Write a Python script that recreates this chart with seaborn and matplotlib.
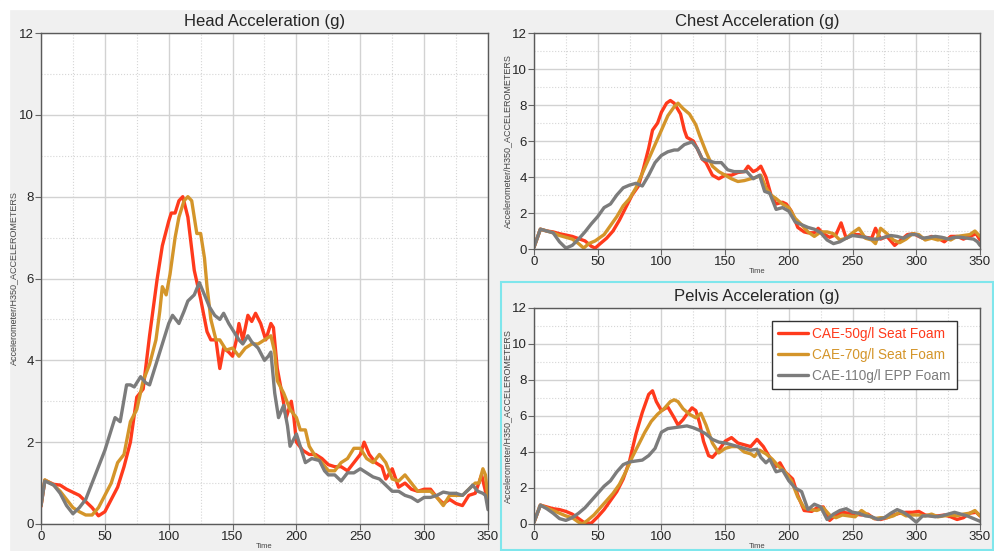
import matplotlib
matplotlib.use("Agg")
import matplotlib.pyplot as plt
import seaborn as sns
from matplotlib.patches import Rectangle
from matplotlib.ticker import MultipleLocator

# ---- data (time in ms, acceleration in g) ----
labels = ["CAE-50g/l Seat Foam", "CAE-70g/l Seat Foam", "CAE-110g/l EPP Foam"]
colors = ["#ff3a1c", "#d4952a", "#7c7c7c"]

# Head
head_t_50 = [0, 3, 10, 15, 20, 30, 40, 45, 50, 55, 60, 65, 70, 75, 80, 85, 88, 91, 95, 100, 102, 105, 108, 111,
             115, 120, 125, 130, 133, 137, 140, 143, 147, 150, 153, 155, 158, 162, 165, 168, 172, 176, 180, 182,
             185, 188, 192, 196, 198, 200, 205, 210, 215, 220, 225, 230, 235, 240, 245, 250, 253, 257, 262, 267,
             270, 275, 280, 285, 290, 295, 300, 305, 310, 315, 320, 325, 330, 335, 340, 345, 348, 350]
head_g_50 = [0.43, 1.07, 0.97, 0.95, 0.85, 0.7, 0.4, 0.2, 0.3, 0.6, 0.9, 1.4, 2.0, 3.1, 3.3, 4.6, 5.3, 6.0, 6.8, 7.4,
             7.6, 7.6, 7.9, 8.0, 7.5, 6.2, 5.5, 4.7, 4.5, 4.5, 3.8, 4.3, 4.2, 4.1, 4.5, 4.9, 4.5, 5.1, 4.95, 5.15,
             4.9, 4.5, 4.9, 4.8, 3.8, 3.3, 2.6, 3.0, 2.6, 2.0, 1.8, 1.7, 1.7, 1.6, 1.45, 1.4, 1.4, 1.3, 1.5, 1.7,
             2.0, 1.7, 1.5, 1.4, 1.1, 1.35, 0.9, 1.0, 0.85, 0.8, 0.85, 0.85, 0.65, 0.5, 0.6, 0.5, 0.45, 0.7,
             0.75, 1.2, 0.8, 0.5]
head_t_70 = [0, 3, 10, 15, 20, 25, 30, 35, 40, 45, 50, 55, 60, 65, 70, 75, 80, 85, 90, 93, 95, 98, 101, 105, 108,
             112, 115, 118, 122, 125, 128, 130, 133, 137, 140, 145, 150, 155, 160, 165, 170, 175, 180, 183, 185,
             190, 195, 200, 203, 207, 210, 215, 220, 225, 230, 235, 240, 245, 250, 255, 260, 265, 270, 275, 280,
             285, 290, 295, 300, 305, 310, 315, 320, 325, 330, 335, 340, 343, 346, 348, 350]
head_g_70 = [0.45, 1.08, 0.95, 0.8, 0.6, 0.4, 0.3, 0.22, 0.22, 0.4, 0.7, 1.0, 1.5, 1.7, 2.5, 2.8, 3.5, 3.9, 4.5,
             5.2, 5.8, 5.6, 6.1, 7.0, 7.5, 7.9, 8.0, 7.9, 7.1, 7.1, 6.5, 5.8, 5.0, 4.5, 4.5, 4.25, 4.3, 4.1, 4.3,
             4.4, 4.4, 4.5, 4.6, 4.2, 3.5, 3.2, 2.8, 2.6, 2.3, 2.3, 1.9, 1.65, 1.5, 1.3, 1.3, 1.5, 1.6, 1.85,
             1.85, 1.6, 1.5, 1.7, 1.5, 1.1, 1.05, 1.2, 1.0, 0.8, 0.8, 0.8, 0.65, 0.45, 0.7, 0.7, 0.7, 0.85, 1.0,
             1.0, 1.35, 1.2, 0.6]
head_t_110 = [0, 3, 10, 15, 20, 25, 30, 35, 40, 45, 50, 55, 58, 62, 67, 70, 73, 78, 82, 85, 90, 95, 100, 103, 108,
              112, 115, 120, 124, 128, 132, 136, 140, 143, 147, 150, 155, 158, 162, 165, 170, 175, 178, 180, 183,
              186, 190, 193, 195, 200, 203, 207, 212, 218, 222, 225, 230, 235, 240, 245, 250, 255, 260, 265, 270,
              275, 280, 285, 290, 295, 300, 305, 310, 315, 320, 325, 330, 335, 338, 342, 346, 348, 350]
head_g_110 = [0.45, 1.05, 0.95, 0.75, 0.45, 0.25, 0.4, 0.6, 1.0, 1.4, 1.8, 2.3, 2.6, 2.5, 3.4, 3.4, 3.35, 3.6,
              3.45, 3.4, 3.9, 4.4, 4.9, 5.1, 4.9, 5.2, 5.45, 5.6, 5.9, 5.6, 5.3, 5.1, 5.0, 5.15, 4.9, 4.75, 4.5,
              4.4, 4.6, 4.45, 4.3, 4.0, 4.1, 4.2, 3.2, 2.6, 2.9, 2.4, 1.9, 2.2, 1.9, 1.5, 1.6, 1.55, 1.3, 1.2,
              1.2, 1.05, 1.25, 1.25, 1.35, 1.25, 1.15, 1.1, 0.95, 0.8, 0.8, 0.7, 0.65, 0.55, 0.65, 0.65, 0.7,
              0.78, 0.75, 0.75, 0.7, 0.85, 0.95, 0.8, 0.75, 0.7, 0.35]

# Chest
chest_t_50 = [0, 5, 10, 15, 20, 30, 40, 45, 48, 52, 57, 62, 67, 72, 77, 82, 86, 90, 93, 97, 100, 104, 107, 110,
              115, 118, 120, 125, 128, 132, 135, 140, 145, 150, 155, 160, 165, 168, 172, 175, 178, 182, 186, 190,
              195, 198, 202, 207, 212, 215, 220, 223, 227, 232, 237, 241, 245, 250, 255, 260, 265, 268, 272, 277,
              283, 288, 293, 298, 302, 307, 312, 317, 322, 327, 332, 337, 342, 347, 350]
chest_g_50 = [0.1, 1.1, 1.0, 0.95, 0.85, 0.7, 0.45, 0.15, 0.05, 0.3, 0.6, 1.0, 1.6, 2.3, 3.0, 3.5, 4.5, 5.6, 6.6,
              7.0, 7.6, 8.1, 8.25, 8.1, 7.5, 6.6, 6.2, 6.0, 5.6, 5.0, 4.8, 4.1, 3.9, 4.1, 4.1, 4.25, 4.3, 4.6,
              4.3, 4.4, 4.6, 4.0, 3.0, 2.5, 2.6, 2.5, 2.1, 1.2, 0.95, 0.9, 0.9, 1.15, 0.85, 0.65, 0.8, 1.45, 0.6,
              0.8, 0.8, 0.65, 0.6, 1.15, 0.55, 0.7, 0.2, 0.5, 0.8, 0.85, 0.7, 0.55, 0.7, 0.6, 0.4, 0.7, 0.7,
              0.55, 0.7, 0.85, 0.5]
chest_t_70 = [0, 5, 10, 15, 20, 25, 30, 35, 39, 43, 48, 55, 60, 65, 70, 75, 80, 85, 90, 95, 100, 105, 110, 113,
              117, 122, 127, 130, 135, 140, 145, 150, 155, 160, 165, 170, 175, 178, 182, 186, 190, 195, 200, 205,
              210, 215, 220, 225, 230, 235, 240, 245, 250, 255, 260, 265, 268, 272, 277, 282, 287, 292, 297, 302,
              307, 312, 317, 322, 327, 332, 337, 342, 346, 350]
chest_g_70 = [0.1, 1.1, 1.0, 0.9, 0.75, 0.65, 0.55, 0.3, 0.05, 0.3, 0.45, 0.8, 1.3, 1.8, 2.4, 2.8, 3.4, 4.2, 5.0,
              5.8, 6.6, 7.4, 7.9, 8.1, 7.8, 7.5, 6.9, 6.3, 5.4, 4.6, 4.3, 4.1, 3.9, 3.75, 3.8, 3.9, 4.0, 4.1, 3.4,
              3.0, 2.8, 2.5, 2.3, 1.7, 1.35, 0.95, 0.7, 0.95, 0.95, 0.85, 0.5, 0.6, 0.9, 1.15, 0.6, 0.5, 0.3,
              1.15, 0.85, 0.5, 0.35, 0.55, 0.85, 0.8, 0.5, 0.6, 0.5, 0.6, 0.5, 0.7, 0.75, 0.8, 1.0, 0.7]
chest_t_110 = [0, 5, 10, 15, 20, 25, 30, 35, 40, 45, 50, 55, 60, 65, 70, 75, 80, 85, 90, 95, 100, 105, 110, 113,
               118, 124, 128, 132, 137, 142, 147, 152, 157, 162, 167, 172, 177, 181, 185, 190, 195, 200, 205, 210,
               215, 220, 225, 230, 235, 240, 245, 250, 255, 260, 265, 270, 275, 280, 285, 290, 295, 300, 305, 310,
               315, 320, 325, 330, 335, 340, 345, 348, 350]
chest_g_110 = [0.1, 1.1, 1.0, 0.9, 0.4, 0.05, 0.2, 0.55, 0.95, 1.4, 1.8, 2.3, 2.5, 3.0, 3.4, 3.55, 3.65, 3.5,
               4.1, 4.8, 5.2, 5.4, 5.5, 5.5, 5.8, 5.95, 5.6, 5.0, 4.9, 4.8, 4.8, 4.4, 4.3, 4.3, 4.3, 3.9, 4.1,
               3.2, 3.1, 2.2, 2.3, 2.1, 1.5, 1.35, 1.2, 1.1, 0.9, 0.5, 0.3, 0.4, 0.6, 0.75, 0.7, 0.65, 0.55,
               0.55, 0.65, 0.75, 0.7, 0.6, 0.8, 0.8, 0.6, 0.65, 0.7, 0.65, 0.55, 0.65, 0.65, 0.6, 0.55, 0.4, 0.2]

# Pelvis
pelvis_t_50 = [0, 5, 10, 15, 20, 25, 30, 35, 40, 45, 50, 55, 60, 65, 70, 75, 80, 85, 90, 93, 96, 100, 105, 110,
               113, 117, 120, 124, 127, 130, 133, 137, 140, 145, 150, 155, 160, 165, 170, 175, 180, 185, 190, 193,
               197, 203, 207, 212, 218, 222, 227, 232, 237, 242, 247, 252, 257, 262, 267, 272, 277, 282, 287, 292,
               297, 302, 307, 312, 317, 322, 327, 332, 337, 342, 347, 350]
pelvis_g_50 = [0.1, 1.05, 0.95, 0.85, 0.8, 0.7, 0.55, 0.3, 0.05, 0.05, 0.4, 0.8, 1.3, 1.8, 2.5, 3.5, 5.0, 6.2,
               7.2, 7.4, 6.8, 6.3, 6.5, 5.9, 5.5, 5.8, 6.1, 6.45, 6.3, 5.6, 4.6, 3.8, 3.7, 4.1, 4.6, 4.8, 4.5,
               4.4, 4.3, 4.7, 4.3, 3.7, 3.2, 3.4, 2.9, 2.5, 1.6, 0.75, 0.7, 0.9, 0.95, 0.2, 0.5, 0.65, 0.6, 0.55,
               0.5, 0.55, 0.3, 0.25, 0.35, 0.5, 0.6, 0.65, 0.65, 0.7, 0.5, 0.45, 0.45, 0.5, 0.4, 0.25, 0.35,
               0.6, 0.65, 0.45]
pelvis_t_70 = [0, 5, 10, 15, 20, 25, 30, 35, 38, 42, 47, 52, 57, 62, 67, 72, 77, 82, 87, 92, 97, 102, 107, 110,
               113, 117, 122, 127, 131, 135, 140, 145, 150, 155, 160, 165, 170, 173, 177, 182, 187, 192, 197, 202,
               207, 212, 217, 222, 227, 232, 237, 242, 247, 252, 257, 262, 267, 272, 277, 282, 287, 292, 297, 302,
               307, 312, 317, 322, 327, 332, 337, 342, 346, 350]
pelvis_g_70 = [0.1, 1.05, 0.9, 0.75, 0.6, 0.45, 0.35, 0.1, 0.0, 0.2, 0.5, 0.9, 1.3, 1.7, 2.2, 2.9, 3.7, 4.4, 5.1,
               5.7, 6.1, 6.4, 6.8, 6.9, 6.8, 6.4, 6.1, 5.9, 6.15, 5.5, 4.5, 3.95, 4.2, 4.3, 4.3, 4.0, 3.9, 3.75,
               4.1, 3.9, 3.6, 3.2, 2.9, 2.4, 1.5, 0.9, 0.8, 0.75, 0.9, 0.5, 0.35, 0.5, 0.45, 0.4, 0.75, 0.5, 0.3,
               0.35, 0.35, 0.45, 0.65, 0.45, 0.5, 0.5, 0.45, 0.55, 0.4, 0.45, 0.5, 0.45, 0.55, 0.6, 0.75, 0.45]
pelvis_t_110 = [0, 5, 10, 15, 20, 25, 30, 35, 40, 45, 50, 55, 60, 65, 70, 75, 80, 85, 90, 95, 100, 105, 110, 115,
                120, 125, 130, 135, 140, 145, 150, 155, 160, 165, 170, 175, 178, 182, 185, 190, 195, 200, 205, 210,
                215, 220, 225, 230, 235, 240, 245, 250, 255, 260, 265, 270, 275, 280, 285, 290, 295, 300, 305, 310,
                315, 320, 325, 330, 335, 340, 345, 350]
pelvis_g_110 = [0.1, 1.05, 0.85, 0.6, 0.3, 0.2, 0.35, 0.6, 0.9, 1.3, 1.7, 2.1, 2.4, 2.9, 3.3, 3.45, 3.5, 3.55,
                3.8, 4.2, 5.1, 5.3, 5.35, 5.4, 5.45, 5.35, 5.2, 5.0, 4.7, 4.55, 4.5, 4.4, 4.3, 4.2, 4.1, 4.15, 3.7,
                3.4, 3.6, 2.9, 3.0, 2.4, 2.0, 1.8, 0.8, 1.1, 0.95, 0.25, 0.55, 0.75, 0.85, 0.65, 0.6, 0.45, 0.4,
                0.25, 0.35, 0.6, 0.8, 0.65, 0.4, 0.1, 0.45, 0.45, 0.4, 0.45, 0.55, 0.65, 0.55, 0.45, 0.3, 0.15]

x_ticks = [0, 50, 100, 150, 200, 250, 300, 350]
y_ticks = [0, 2, 4, 6, 8, 10, 12]

panels = [
    ("Head Acceleration (g)", [(head_t_50, head_g_50), (head_t_70, head_g_70), (head_t_110, head_g_110)]),
    ("Chest Acceleration (g)", [(chest_t_50, chest_g_50), (chest_t_70, chest_g_70), (chest_t_110, chest_g_110)]),
    ("Pelvis Acceleration (g)", [(pelvis_t_50, pelvis_g_50), (pelvis_t_70, pelvis_g_70), (pelvis_t_110, pelvis_g_110)]),
]

sns.set_style("white")
plt.rcParams["font.family"] = ["Liberation Sans", "DejaVu Sans"]

fig = plt.figure(figsize=(9.95, 5.51), dpi=100, facecolor="#f0f0f0")
W, H = 995.0, 551.0

# white margins at top / left and the cyan frame around the pelvis window
fig.patches.append(Rectangle((0, 1 - 9 / H), 1, 9 / H, transform=fig.transFigure, color="white", zorder=0))
fig.patches.append(Rectangle((0, 0), 9 / W, 1, transform=fig.transFigure, color="white", zorder=0))
fig.patches.append(Rectangle((501 / W, 0.002), (993 - 501) / W, (551 - 283) / H, transform=fig.transFigure,
                             fill=False, edgecolor="#7fe6ec", linewidth=1.5, zorder=1))


def px_rect(left, top, right, bottom):
    return [left / W, 1 - bottom / H, (right - left) / W, (bottom - top) / H]


boxes = [px_rect(41, 33, 488, 524), px_rect(534, 33, 980, 249), px_rect(534, 308, 980, 524)]

for (title, series), box in zip(panels, boxes):
    ax = fig.add_axes(box)
    ax.set_facecolor("white")
    for (t, g), lab, col in zip(series, labels, colors):
        sns.lineplot(x=t, y=g, ax=ax, color=col, linewidth=2.4, label=lab, sort=False,
                     estimator=None, solid_joinstyle="round", solid_capstyle="round")
    ax.set_xlim(0, 350)
    ax.set_ylim(0, 12)
    ax.set_xticks(x_ticks)
    ax.set_yticks(y_ticks)
    ax.xaxis.set_minor_locator(MultipleLocator(25))
    ax.yaxis.set_minor_locator(MultipleLocator(1))
    ax.grid(True, which="major", color="#d2d2d2", linewidth=1.0)
    ax.grid(True, which="minor", color="#d6d6d6", linewidth=0.8, linestyle=":")
    ax.set_axisbelow(True)
    ax.tick_params(which="major", direction="out", length=4, width=0.8, color="#666666",
                   labelsize=9.5, pad=1, left=True, bottom=True)
    ax.tick_params(which="minor", length=0)
    for s in ax.spines.values():
        s.set_color("#5a5a5a")
        s.set_linewidth(1.0)
    ax.set_title(title, fontsize=12, pad=5)
    ax.set_xlabel("Time", fontsize=5.5, labelpad=0, color="#444444")
    ax.set_ylabel("Accelerometer/H350_ACCELEROMETERS", fontsize=6.5, color="#444444")
    ax.yaxis.set_label_coords(-0.05, 0.5)
    if title.startswith("Pelvis"):
        leg = ax.legend(loc="upper right", bbox_to_anchor=(0.948, 0.94), borderaxespad=0, fontsize=9.8,
                        frameon=True, fancybox=False, framealpha=1, edgecolor="#333333", handlelength=2.2,
                        handletextpad=0.3, borderpad=0.45, labelspacing=0.5)
        leg.get_frame().set_linewidth(1.0)
        for txt, col in zip(leg.get_texts(), colors):
            txt.set_color(col)
    else:
        ax.get_legend().remove()

fig.savefig("out.png", dpi=100, facecolor=fig.get_facecolor())
